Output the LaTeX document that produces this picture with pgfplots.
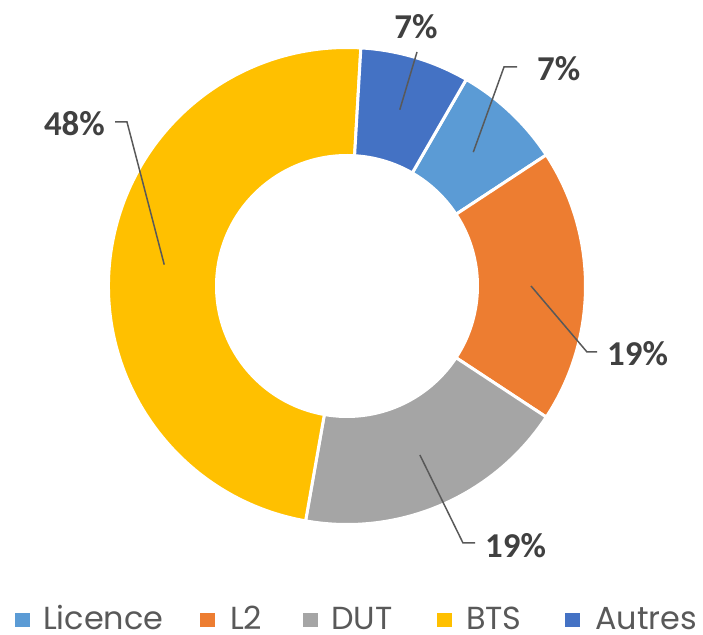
\documentclass[border=0pt]{standalone}
\usepackage{pgfplots}
\usepackage{pgfplotstable}
\pgfplotsset{compat=1.18}
\usepackage{fontspec}
\setmainfont{Carlito}
\newfontfamily\legfont{Poppins}
\definecolor{cLicence}{HTML}{5B9BD5}
\definecolor{cLdeux}{HTML}{ED7D31}
\definecolor{cDUT}{HTML}{A5A5A5}
\definecolor{cBTS}{HTML}{FFC000}
\definecolor{cAutres}{HTML}{4472C4}
\definecolor{labc}{HTML}{404040}
\definecolor{legc}{HTML}{595959}

\pgfplotstableread{
name value
Licence 2
L2 5
DUT 5
BTS 13
Autres 2
}\datatable

\def\Ro{238.5bp}
\def\Ri{130.5bp}
\def\Rm{184bp}
\newcommand\sector[3]{%
  \fill[#3,draw=white,line width=3bp]
    ([shift={(#1:\Ro)}]axis cs:347,349) arc[start angle=#1,end angle=#2,radius=\Ro]
    -- ([shift={(#2:\Ri)}]axis cs:347,349) arc[start angle=#2,end angle=#1,radius=\Ri]
    -- cycle;}

\begin{document}
\begin{tikzpicture}
\pgfplotstablegetelem{0}{value}\of\datatable \pgfmathsetmacro\vA{\pgfplotsretval}
\pgfplotstablegetelem{1}{value}\of\datatable \pgfmathsetmacro\vB{\pgfplotsretval}
\pgfplotstablegetelem{2}{value}\of\datatable \pgfmathsetmacro\vC{\pgfplotsretval}
\pgfplotstablegetelem{3}{value}\of\datatable \pgfmathsetmacro\vD{\pgfplotsretval}
\pgfplotstablegetelem{4}{value}\of\datatable \pgfmathsetmacro\vE{\pgfplotsretval}
\pgfmathsetmacro\tot{\vA+\vB+\vC+\vD+\vE}
\pgfmathsetmacro\aA{60}
\pgfmathsetmacro\aB{\aA-360*\vA/\tot}
\pgfmathsetmacro\aC{\aB-360*\vB/\tot}
\pgfmathsetmacro\aD{\aC-360*\vC/\tot}
\pgfmathsetmacro\aE{\aD-360*\vD/\tot}
\pgfmathsetmacro\aF{\aE-360*\vE/\tot}
\pgfmathsetmacro\mA{(\aA+\aB)/2}
\pgfmathsetmacro\mB{(\aB+\aC)/2}
\pgfmathsetmacro\mC{(\aC+\aD)/2}
\pgfmathsetmacro\mD{(\aD+\aE)/2}
\pgfmathsetmacro\mE{(\aE+\aF)/2}
\pgfmathtruncatemacro\pA{round(100*\vA/\tot)}
\pgfmathtruncatemacro\pB{round(100*\vB/\tot)}
\pgfmathtruncatemacro\pC{round(100*\vC/\tot)}
\pgfmathtruncatemacro\pD{round(100*\vD/\tot)}
\pgfmathtruncatemacro\pE{round(100*\vE/\tot)}
\begin{axis}[x=1bp,y=1bp,xmin=0,xmax=703,ymin=0,ymax=635,hide axis,clip=false,scale only axis]
\path (axis cs:0,0) rectangle (axis cs:703,635);
\sector{\aA}{\aB}{cLicence}
\sector{\aB}{\aC}{cLdeux}
\sector{\aC}{\aD}{cDUT}
\sector{\aD}{\aE}{cBTS}
\sector{\aE}{\aF}{cAutres}
% leader lines
\begin{scope}[draw=legc,line width=1.5bp]
\draw ([shift={(\mA:\Rm)}]axis cs:347,349) -- (axis cs:504,568) -- (axis cs:517,568);
\draw ([shift={(\mB:\Rm)}]axis cs:347,349) -- (axis cs:587,283) -- (axis cs:597,283);
\draw ([shift={(\mC:\Rm)}]axis cs:347,349) -- (axis cs:463,92) -- (axis cs:475,92);
\draw ([shift={(\mD:\Rm)}]axis cs:347,349) -- (axis cs:127,513) -- (axis cs:115,513);
\draw ([shift={(\mE:\Rm)}]axis cs:347,349) -- (axis cs:417,583);
\end{scope}
\begin{scope}[every node/.style={font=\fontsize{35}{40}\selectfont\bfseries,text=labc,inner sep=0pt,text depth=0pt}]
\node[anchor=west] at (axis cs:537,567) {\pA\%};
\node[anchor=west] at (axis cs:607,282) {\pB\%};
\node[anchor=west] at (axis cs:485,90) {\pC\%};
\node[anchor=east] at (axis cs:105,512) {\pD\%};
\node[anchor=center] at (axis cs:416,609) {\pE\%};
\end{scope}
% legend
\begin{scope}[every node/.style={font=\legfont\fontsize{32}{36}\selectfont,text=legc,inner sep=0pt,text depth=0pt,anchor=base west}]
\fill[cLicence] (axis cs:15,8) rectangle (axis cs:30,22);
\node at (axis cs:43,5) {Licence};
\fill[cLdeux] (axis cs:200,8) rectangle (axis cs:215,22);
\node at (axis cs:230,5) {L2};
\fill[cDUT] (axis cs:303,8) rectangle (axis cs:318,22);
\node at (axis cs:331,5) {DUT};
\fill[cBTS] (axis cs:437,8) rectangle (axis cs:452,22);
\node at (axis cs:466,5) {BTS};
\fill[cAutres] (axis cs:565,8) rectangle (axis cs:580,22);
\node at (axis cs:595,5) {Autres};
\end{scope}
\end{axis}
\end{tikzpicture}
\end{document}
